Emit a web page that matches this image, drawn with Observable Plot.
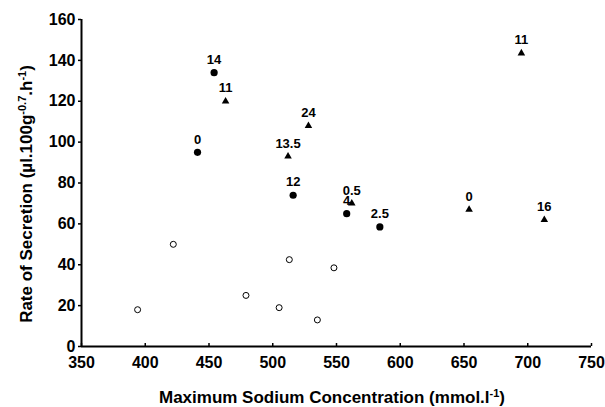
<!DOCTYPE html>
<html>
<head>
<meta charset="utf-8">
<script src="https://cdn.jsdelivr.net/npm/d3@7"></script>
<script src="https://cdn.jsdelivr.net/npm/@observablehq/plot@0.6"></script>
<style>
  html, body { margin: 0; padding: 0; background: #fff; }
  #chart svg { font-family: "Liberation Sans", Arial, sans-serif; font-weight: bold; }
</style>
</head>
<body>
<div id="chart"></div>
<script>
// Filled circles (labelled)
const circleX = [441, 454, 516, 558, 584];
const circleY = [95, 134, 74, 65, 58.5];
const circleLabels = ["0", "14", "12", "4", "2.5"];

// Filled triangles (labelled)
const triX = [463, 528, 512, 562, 695, 654, 713];
const triY = [120, 108, 93, 70, 143.5, 67, 62];
const triLabels = ["11", "24", "13.5", "0.5", "11", "0", "16"];

// Open circles (unlabelled)
const openX = [394, 422, 479, 505, 513, 535, 548];
const openY = [18, 50, 25, 19, 42.5, 13, 38.5];

const xTicks = [350, 400, 450, 500, 550, 600, 650, 700, 750];
const yTicks = [0, 20, 40, 60, 80, 100, 120, 140, 160];

const circles = circleX.map((x, i) => ({x, y: circleY[i], label: circleLabels[i]}));
const tris = triX.map((x, i) => ({x, y: triY[i], label: triLabels[i]}));
const opens = openX.map((x, i) => ({x, y: openY[i]}));

const chart = Plot.plot({
  width: 605,
  height: 407,
  marginLeft: 81,
  marginRight: 14,
  marginTop: 19,
  marginBottom: 61,
  x: {domain: [350, 750]},
  y: {domain: [0, 160]},
  marks: [
    Plot.axisY({ticks: yTicks, tickSize: 3, tickPadding: 3, fontSize: 16, label: null, stroke: "#000", strokeWidth: 1.5}),
    Plot.axisX({ticks: xTicks, tickSize: 0, tickPadding: 10, fontSize: 16, label: null}),
    Plot.axisX({ticks: xTicks, tickSize: 3, text: null, dy: -3, label: null, strokeWidth: 1.5}),
    Plot.ruleY([0], {stroke: "#000", strokeWidth: 2}),
    Plot.ruleX([350], {stroke: "#000", strokeWidth: 2}),
    Plot.dot(opens, {x: "x", y: "y", r: 3, stroke: "#000", strokeWidth: 1, fill: "#fff"}),
    Plot.dot(circles, {x: "x", y: "y", r: 3.6, fill: "#000", symbol: "circle"}),
    Plot.dot(tris, {x: "x", y: "y", r: 2.8, fill: "#000", symbol: "triangle"}),
    Plot.text(circles, {x: "x", y: "y", text: "label", dy: -13, fontSize: 13, fontWeight: "bold", fill: "#000"}),
    Plot.text(tris, {x: "x", y: "y", text: "label", dy: -13, fontSize: 13, fontWeight: "bold", fill: "#000"})
  ]
});

document.getElementById("chart").appendChild(chart);

const svg = d3.select(chart);
// x-axis title
const xt = svg.append("text")
  .attr("x", 332).attr("y", 403)
  .attr("text-anchor", "middle")
  .attr("font-size", 17).attr("font-weight", "bold").attr("fill", "#000");
xt.append("tspan").text("Maximum Sodium Concentration (mmol.l");
xt.append("tspan").attr("dy", -6).attr("font-size", 11).text("-1");
xt.append("tspan").attr("dy", 6).text(")");

// y-axis title
const yt = svg.append("text")
  .attr("transform", "translate(32,194) rotate(-90)")
  .attr("text-anchor", "middle")
  .attr("font-size", 17).attr("font-weight", "bold").attr("fill", "#000");
yt.append("tspan").text("Rate of Secretion (µl.100g");
yt.append("tspan").attr("dy", -6).attr("font-size", 11).text("-0.7");
yt.append("tspan").attr("dy", 6).text(".h");
yt.append("tspan").attr("dy", -6).attr("font-size", 11).text("-1");
yt.append("tspan").attr("dy", 6).text(")");
</script>
</body>
</html>
